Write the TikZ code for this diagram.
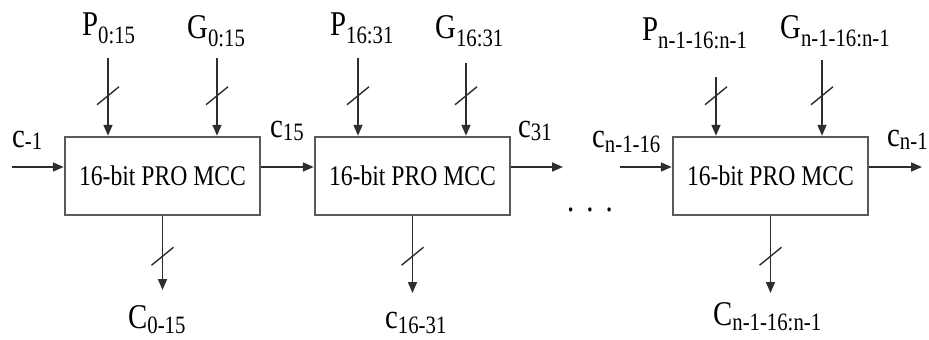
\documentclass[tikz,border=0pt]{standalone}
\usepackage{fontspec}
\setmainfont{Liberation Serif}[FakeStretch=0.83]
\usetikzlibrary{arrows.meta, positioning, decorations.markings}
\definecolor{WireGray}{HTML}{2E2E2E}
\definecolor{BoxGray}{HTML}{5A5A5A}
\newcommand{\lblsize}{\fontsize{34.7}{36}\selectfont}
\newcommand{\subsize}{\fontsize{25}{26}\selectfont}
\newcommand{\sig}[3][6pt]{#2\raisebox{-#1}{\subsize #3}}

\tikzset{
  mcc/.style={draw=BoxGray, line width=2.5pt, minimum width=195pt,
    minimum height=78pt, inner sep=0pt, font=\fontsize{28.5}{30}\selectfont},
  wire/.style={draw=WireGray, line width=1.7pt, -{Triangle[length=11pt,width=9pt]}},
  bus/.style={postaction=decorate, decoration={markings,
    mark=at position #1 with {\draw[WireGray, line width=1.4pt, -] (9pt,-11pt) -- (-9pt,11pt);}}},
  lbl/.style={inner sep=0pt, anchor=base west, font=\lblsize}
}

\begin{document}
\begin{tikzpicture}[x=1pt, y=-1pt]
    \useasboundingbox (0,0) rectangle (929,340);

    % The three carry blocks
    \node[mcc] (mcc1) at (162.5,176) {16-bit PRO MCC};
    \node[mcc] (mcc2) at (412.5,176) {16-bit PRO MCC};
    \node[mcc] (mcc3) at (770.5,176) {16-bit PRO MCC};

    % Wire ends
    \coordinate (p1) at (108,58);  \coordinate (g1) at (217,58);
    \coordinate (p2) at (358,58);  \coordinate (g2) at (466,63);
    \coordinate (p3) at (716,77);  \coordinate (g3) at (822,60);
    \coordinate (o1) at (162.5,290);
    \coordinate (o2) at (412.5,293);
    \coordinate (o3) at (770.5,293);
    \coordinate (cin) at (12,167);
    \coordinate (c31end) at (563,167);
    \coordinate (cmid) at (620,167);
    \coordinate (cout) at (922,167);

    % Propagate / generate buses into each block
    \foreach \s/\b in {p1/mcc1, g1/mcc1, p2/mcc2, g2/mcc2, p3/mcc3, g3/mcc3}{
      \draw[wire, bus=-40pt] (\s) -- (\s |- \b.north);
    }

    % Group carry buses out of each block
    \foreach \b/\o in {mcc1/o1, mcc2/o2, mcc3/o3}{
      \draw[wire, bus=40pt] (\b) -- (\o);
    }

    % Carry chain
    \draw[wire] (cin) -- (cin -| mcc1.west);
    \draw[wire] (mcc1.east |- cin) -- (mcc2.west |- cin);
    \draw[wire] (mcc2.east |- c31end) -- (c31end);
    \draw[wire] (cmid) -- (cmid -| mcc3.west);
    \draw[wire] (mcc3.east |- cout) -- (cout);

    % Input labels
    \node[lbl] (p1lbl) at (82,35) {\sig[8pt]{P}{0:15}};
    \node[lbl] (g1lbl) at (187,38) {\sig[8pt]{G}{0:15}};
    \node[lbl] (p2lbl) at (330,35) {\sig[8pt]{P}{16:31}};
    \node[lbl] (g2lbl) at (435,38) {\sig[8pt]{G}{16:31}};
    \node[lbl] (p3lbl) at (642,40) {\sig[8pt]{P}{n-1-16:n-1}};
    \node[lbl] (g3lbl) at (780,38) {\sig[8pt]{G}{n-1-16:n-1}};

    % Carry labels
    \node[lbl] (cinlbl) at (12,147) {\sig[2pt]{c}{-1}};
    \node[lbl] (c15lbl) at (270,137) {\sig[3pt]{c}{15}};
    \node[lbl] (c31lbl) at (518,137) {\sig[3pt]{c}{31}};
    \node[lbl] (cmidlbl) at (592,147) {\sig[5pt]{c}{n-1-16}};
    \node[lbl] (coutlbl) at (887,146) {\sig[3pt]{c}{n-1}};

    % Output labels
    \node[lbl] (o1lbl) at (128,328) {\sig[5pt]{C}{0-15}};
    \node[lbl] (o2lbl) at (385,328) {\sig[5pt]{c}{16-31}};
    \node[lbl] (o3lbl) at (713,325) {\sig[5pt]{C}{n-1-16:n-1}};

    % Continuation dots
    \node[lbl, anchor=base] (dots) at (590,211) {.\hspace{12pt}.\hspace{12pt}.};
\end{tikzpicture}
\end{document}
